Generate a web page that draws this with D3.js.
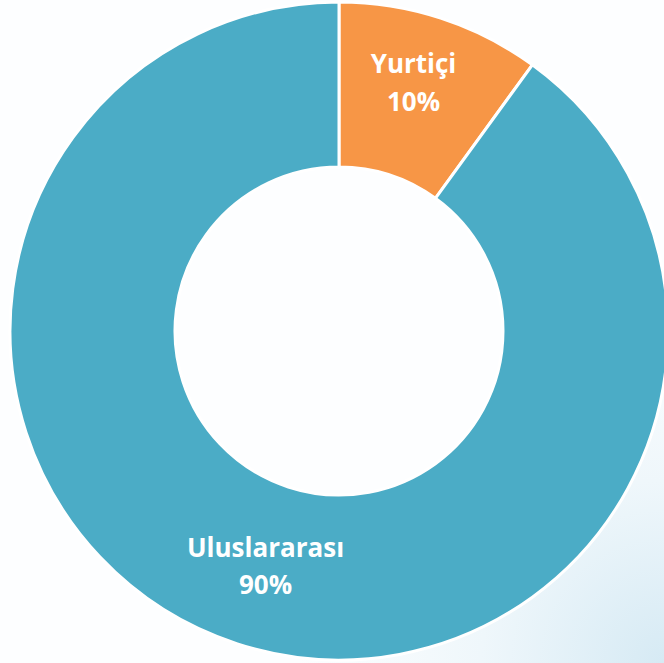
<html>
<head>
  <meta charset="utf-8">
  <script src="https://d3js.org/d3.v7.min.js"></script>
  <style>
    body { margin: 0; background: #fff; }
    .lbl { font-family: "Open Sans", Lato, sans-serif; font-weight: bold; fill: #fff; font-size: 26px; text-anchor: middle; }
  </style>
</head>
<body>
<div id="chart"></div>
<script>
  // data
  var categories = ["Yurtiçi", "Uluslararası"];
  var values = [10, 90];
  var labels = ["10%", "90%"];
  var colors = ["#F79646", "#4BACC6"];

  var width = 664, height = 663;
  var cx = 339, cy = 331, outerR = 329, innerR = 164;

  var svg = d3.select("#chart").append("svg")
    .attr("width", width)
    .attr("height", height);

  // faint bluish background, stronger in the bottom right corner
  var defs = svg.append("defs");
  var grad = defs.append("radialGradient")
    .attr("id", "bg")
    .attr("cx", "1").attr("cy", "1").attr("r", "0.55");
  grad.append("stop").attr("offset", "0").attr("stop-color", "#d6eaf4");
  grad.append("stop").attr("offset", "0.5").attr("stop-color", "#eff7fb");
  grad.append("stop").attr("offset", "1").attr("stop-color", "#fdfeff");
  svg.append("rect").attr("width", width).attr("height", height).attr("fill", "#fdfeff");
  svg.append("rect").attr("width", width).attr("height", height).attr("fill", "url(#bg)");

  var g = svg.append("g").attr("transform", "translate(" + cx + "," + cy + ")");

  var pie = d3.pie().sort(null).value(function (d, i) { return values[i]; });
  var arcs = pie(categories);

  var arc = d3.arc().innerRadius(innerR).outerRadius(outerR);
  var labelArc = d3.arc().innerRadius(254).outerRadius(254);

  g.append("circle").attr("r", innerR).attr("fill", "#fdfeff");

  g.selectAll("path.slice")
    .data(arcs)
    .enter()
    .append("path")
    .attr("class", "slice")
    .attr("d", arc)
    .attr("fill", function (d, i) { return colors[i]; })
    .attr("stroke", "#fff")
    .attr("stroke-width", 3);

  var t = g.selectAll("text.lbl")
    .data(arcs)
    .enter()
    .append("text")
    .attr("class", "lbl")
    .attr("transform", function (d, i) {
      var c = labelArc.centroid(d);
      var nudge = i == 0 ? -4 : 5;
      return "translate(" + (c[0] + nudge) + "," + (c[1] - 3) + ")";
    });
  t.append("tspan").attr("x", 0).attr("dy", "-0.5em").text(function (d, i) { return categories[i]; });
  t.append("tspan").attr("x", 0).attr("dy", "1.45em").text(function (d, i) { return labels[i]; });
</script>
</body>
</html>
